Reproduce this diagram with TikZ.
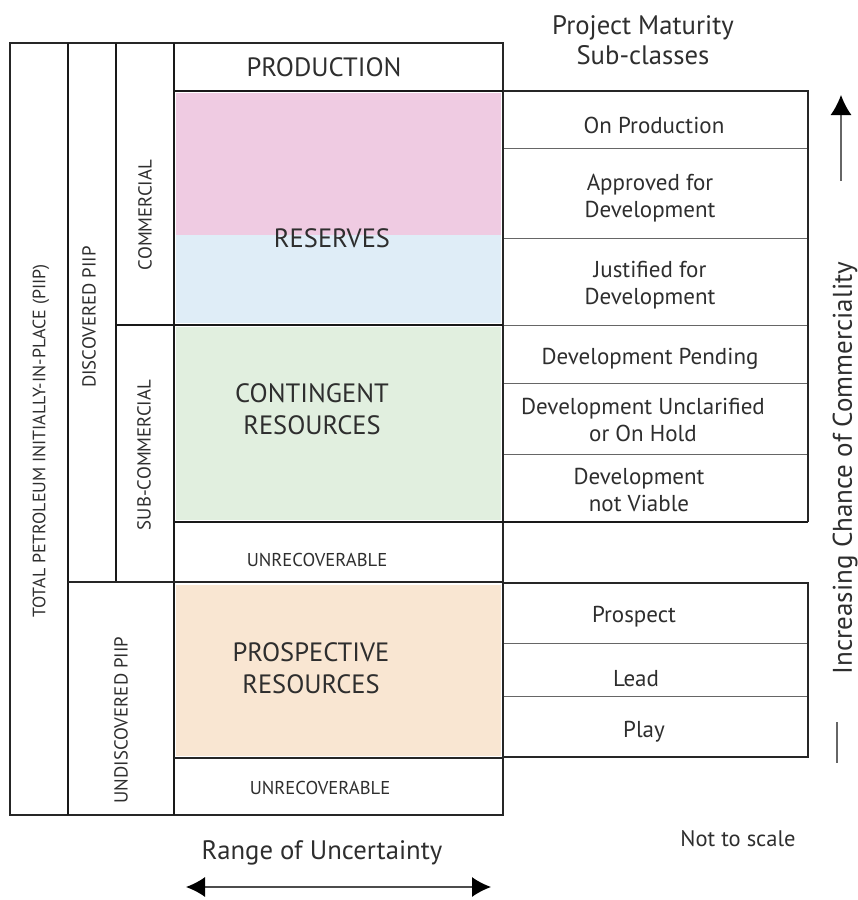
\documentclass[tikz,border=0pt]{standalone}
\usepackage{fontspec}
\setmainfont{PT Sans}
\usetikzlibrary{positioning,arrows.meta}
\definecolor{respink}{HTML}{EFCBE2}
\definecolor{resblue}{HTML}{DFEDF7}
\definecolor{contgreen}{HTML}{E1EFDF}
\definecolor{prospeach}{HTML}{F9E6D2}
\definecolor{inkgray}{HTML}{2E2E2E}

\begin{document}
\begin{tikzpicture}
   [x=1pt,y=-1pt,
	thickline/.style={line width=2.6pt,black!90},
	medline/.style={line width=1.8pt,black!85},
	thinline/.style={line width=1pt,black!60},
	bigtxt/.style={text=inkgray,font=\fontsize{26.5}{30}\selectfont},
	cattxt/.style={text=inkgray,align=center,font=\fontsize{26.5}{31.5}\selectfont},
	smalltxt/.style={text=inkgray,font=\fontsize{18.6}{20}\selectfont},
	subtxt/.style={text=inkgray,align=center,font=\fontsize{23}{26.5}\selectfont},
	sidetxt/.style={text=inkgray,rotate=90,font=\fontsize{18.8}{20}\selectfont},
	notetxt/.style={text=inkgray,align=center,font=\fontsize{26.7}{30}\selectfont}]
\useasboundingbox (0,0) rectangle (858,900);
% coloured classes
\fill [respink] (176,93) rectangle (501,235);
\fill [resblue] (176,235) rectangle (501,323);
\fill [contgreen] (176,327) rectangle (501,520);
\fill [prospeach] (176,585) rectangle (501,756);
% main frame
\draw [medline] (10,43) rectangle (503,815);
\draw [thickline] (68,43) -- (68,815);
\draw [thickline] (116,43) -- (116,582);
\draw [thickline] (174,43) -- (174,815);
\draw [thickline] (174,91) -- (503,91);
\draw [thickline] (116,325) -- (503,325);
\draw [thickline] (174,522) -- (808,522);
\draw [medline] (68,582) -- (503,582);
\draw [medline] (174,758) -- (503,758);
% sub-class tables
\draw [medline] (503,91) -- (808,91) -- (808,522);
\foreach \y in {148,238,325,383,454}
	\draw [thinline] (504,\y) -- (807,\y);
\draw [medline] (503,583) -- (808,583) -- (808,757) -- (503,757);
\foreach \y in {643,696}
	\draw [thinline] (504,\y) -- (807,\y);
% class labels
\node [bigtxt] (prod) at (324,67) {PRODUCTION};
\node [cattxt] (res) at (332,238) {RESERVES};
\node [cattxt] (cont) at (312,409) {CONTINGENT\\RESOURCES};
\node [smalltxt] (unrecA) at (317,560) {UNRECOVERABLE};
\node [cattxt] (prosp) at (311,668) {PROSPECTIVE\\RESOURCES};
\node [smalltxt] (unrecB) at (320,788) {UNRECOVERABLE};
% side labels
\node [sidetxt,font=\fontsize{17.9}{20}\selectfont] (piip) at (41,441) {TOTAL PETROLEUM INITIALLY-IN-PLACE (PIIP)};
\node [sidetxt] (disc) at (89,317) {DISCOVERED PIIP};
\node [sidetxt] (comm) at (145,215) {COMMERCIAL};
\node [sidetxt] (subcomm) at (144,455) {SUB-COMMERCIAL};
\node [sidetxt] (undisc) at (121,720) {UNDISCOVERED PIIP};
% maturity sub-classes
\node [subtxt] (onprod) at (654,125) {On Production};
\node [subtxt] (approved) at (650,198) {Approved for\\Development};
\node [subtxt] (justified) at (650,285) {Justified for\\Development};
\node [subtxt] (pending) at (650,359) {Development Pending};
\node [subtxt] (unclar) at (643,420) {Development Unclarified\\or On Hold};
\node [subtxt] (notviable) at (639,490) {Development\\not Viable};
\node [subtxt] (prospect) at (634,617) {Prospect};
\node [subtxt] (lead) at (636,679) {Lead};
\node [subtxt] (play) at (644,732) {Play};
% headings and notes
\node [notetxt] (maturity) at (643,40) {Project Maturity\\Sub-classes};
\node [notetxt] (range) at (322,853) {Range of Uncertainty};
\node [notetxt,font=\fontsize{22.5}{25}\selectfont] (scale) at (738,839) {Not to scale};
\node [notetxt,rotate=90,font=\fontsize{27}{30}\selectfont] (chance) at (845,468) {Increasing Chance of Commerciality};
% arrows
\coordinate (upbot) at (841,181);
\coordinate (uptop) at (841,95);
\draw [line width=1.3pt,black!60,-{Latex[length=20pt,width=21pt,black]}] (upbot) -- (uptop);
\coordinate (bartop) at (837,722);
\coordinate (barbot) at (837,763);
\draw [line width=1.3pt,black!60] (bartop) -- (barbot);
\coordinate (rangeL) at (186,887);
\coordinate (rangeR) at (491,887);
\draw [line width=1.3pt,black!70,{Latex[length=19pt,width=20pt,black]}-{Latex[length=19pt,width=20pt,black]}] (rangeL) -- (rangeR);
\end{tikzpicture}
\end{document}
